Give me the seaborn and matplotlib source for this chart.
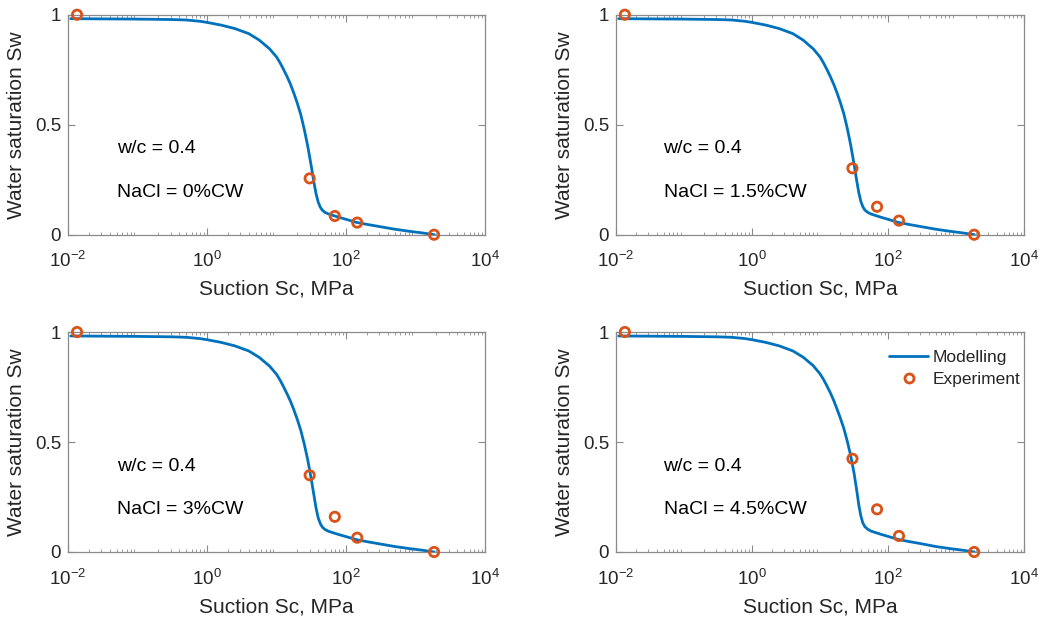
import numpy as np
import pandas as pd
import matplotlib
matplotlib.use("Agg")
import matplotlib.pyplot as plt
import seaborn as sns
from matplotlib.lines import Line2D
from matplotlib.ticker import LogLocator, FixedLocator, FixedFormatter

# ---------------- data ----------------
# modelled curve: log10 of suction (MPa)
model_log10_suction = [-1.96, -1.5, -1.0, -0.5, -0.3, -0.1, 0.0, 0.2, 0.4, 0.6, 0.75, 0.9,
                       1.0, 1.05, 1.1, 1.15, 1.2, 1.25, 1.3, 1.35, 1.4, 1.45, 1.5, 1.54,
                       1.57, 1.6, 1.63, 1.66, 1.7, 1.75, 1.82, 1.9, 2.0, 2.15, 2.3, 2.5,
                       2.7, 2.9, 3.1, 3.27]
model_sw_0 = [0.982, 0.981, 0.980, 0.978, 0.976, 0.970, 0.965, 0.953, 0.937, 0.914, 0.885, 0.845,
              0.808, 0.782, 0.752, 0.720, 0.685, 0.643, 0.597, 0.545, 0.478, 0.402, 0.312, 0.235,
              0.185, 0.148, 0.125, 0.111, 0.101, 0.094, 0.087, 0.079, 0.070, 0.056, 0.047, 0.036,
              0.025, 0.016, 0.008, 0.000]
model_sw_15 = [0.982, 0.981, 0.980, 0.978, 0.976, 0.970, 0.965, 0.953, 0.937, 0.914, 0.885, 0.845,
               0.808, 0.782, 0.752, 0.720, 0.685, 0.645, 0.600, 0.550, 0.485, 0.410, 0.322, 0.245,
               0.192, 0.152, 0.127, 0.112, 0.102, 0.094, 0.087, 0.079, 0.070, 0.056, 0.047, 0.036,
               0.025, 0.016, 0.008, 0.000]
model_sw_3 = [0.982, 0.981, 0.980, 0.978, 0.976, 0.970, 0.965, 0.953, 0.937, 0.914, 0.885, 0.845,
              0.808, 0.782, 0.752, 0.720, 0.686, 0.646, 0.602, 0.552, 0.490, 0.418, 0.332, 0.255,
              0.198, 0.155, 0.129, 0.113, 0.102, 0.094, 0.087, 0.079, 0.070, 0.056, 0.047, 0.036,
              0.025, 0.016, 0.008, 0.000]
model_sw_45 = [0.982, 0.981, 0.980, 0.978, 0.976, 0.970, 0.965, 0.953, 0.937, 0.914, 0.886, 0.847,
               0.810, 0.785, 0.756, 0.725, 0.690, 0.650, 0.608, 0.562, 0.505, 0.440, 0.360, 0.280,
               0.215, 0.165, 0.132, 0.115, 0.104, 0.095, 0.088, 0.080, 0.071, 0.057, 0.048, 0.037,
               0.025, 0.016, 0.008, 0.000]

# experiment suction (MPa)
exp_suction = [0.0135, 30, 69, 145, 1850]
exp_sw_0 = [1.0, 0.256, 0.085, 0.055, 0.0]
exp_sw_15 = [1.0, 0.302, 0.127, 0.064, 0.0]
exp_sw_3 = [1.0, 0.349, 0.160, 0.065, 0.0]
exp_sw_45 = [1.0, 0.424, 0.194, 0.073, 0.0]

nacl_labels = ["NaCl = 0%CW", "NaCl = 1.5%CW", "NaCl = 3%CW", "NaCl = 4.5%CW"]
wc_label = "w/c = 0.4"
model_series = [model_sw_0, model_sw_15, model_sw_3, model_sw_45]
exp_series = [exp_sw_0, exp_sw_15, exp_sw_3, exp_sw_45]

x_label = "Suction Sc, MPa"
y_label = "Water saturation Sw"
legend_labels = ["Modelling", "Experiment"]

# ---------------- style ----------------
sns.set_style("ticks")
plt.rcParams["font.family"] = ["Liberation Sans", "DejaVu Sans"]
plt.rcParams["mathtext.fontset"] = "custom"
plt.rcParams["mathtext.rm"] = "Liberation Sans"
plt.rcParams["mathtext.it"] = "Liberation Sans:italic"
plt.rcParams["mathtext.bf"] = "Liberation Sans:bold"

BLUE = "#0072BD"
ORANGE = "#D95319"
TXT = "#262626"
AX = "#8a8a8a"

fig = plt.figure(figsize=(10.54, 6.19), dpi=100)
positions = [
    [68 / 1054, 1 - 234.7 / 619, 417 / 1054, 220 / 619],
    [616 / 1054, 1 - 234.7 / 619, 408 / 1054, 220 / 619],
    [68 / 1054, 1 - 552 / 619, 417 / 1054, 220 / 619],
    [616 / 1054, 1 - 552 / 619, 408 / 1054, 220 / 619],
]

model_x = [10 ** v for v in model_log10_suction]

for i, pos in enumerate(positions):
    ax = fig.add_axes(pos)
    dfm = pd.DataFrame({"s": model_x, "sw": model_series[i]})
    dfe = pd.DataFrame({"s": exp_suction, "sw": exp_series[i]})
    sns.lineplot(data=dfm, x="s", y="sw", ax=ax, color=BLUE, linewidth=2.0,
                 sort=False, estimator=None)
    sns.scatterplot(data=dfe, x="s", y="sw", ax=ax, marker="o", s=45,
                    facecolor="none", edgecolor=ORANGE, linewidth=2.0, zorder=5,
                    clip_on=False)
    ax.set_xscale("log")
    ax.set_xlim(1e-2, 1e4)
    ax.set_ylim(0, 1)
    ax.xaxis.set_major_locator(FixedLocator([1e-2, 1e0, 1e2, 1e4]))
    ax.xaxis.set_major_formatter(FixedFormatter([r"$\mathdefault{10^{-2}}$", r"$\mathdefault{10^{0}}$",
                                                 r"$\mathdefault{10^{2}}$", r"$\mathdefault{10^{4}}$"]))
    ax.xaxis.set_minor_locator(LogLocator(base=10, subs=np.arange(2, 10), numticks=20))
    ax.set_yticks([0, 0.5, 1])
    ax.set_yticklabels(["0", "0.5", "1"])
    ax.tick_params(axis="both", which="both", direction="in", top=True, right=True,
                   colors=AX, labelcolor=TXT, labelsize=13.5)
    ax.tick_params(axis="y", which="major", length=5, width=0.8, pad=5)
    ax.tick_params(axis="x", which="major", length=5, width=0.8, pad=12)
    ax.tick_params(axis="x", which="minor", length=2.5, width=0.6)
    for sp in ax.spines.values():
        sp.set_color(AX)
        sp.set_linewidth(0.9)
    ax.set_xlabel(x_label, fontsize=15, color=TXT, labelpad=6)
    ax.set_ylabel(y_label, fontsize=15, color=TXT, labelpad=6)
    ax.text(0.05, 0.39, wc_label, fontsize=14, color="black", va="center", ha="left")
    ax.text(0.05, 0.193, nacl_labels[i], fontsize=14, color="black", va="center", ha="left")
    if i == 3:
        handles = [Line2D([0], [0], color=BLUE, lw=2.0),
                   Line2D([0], [0], color=ORANGE, marker="o", ls="none", markersize=6.5,
                          markerfacecolor="none", markeredgewidth=2.0)]
        ax.legend(handles, legend_labels, loc="upper right", frameon=False, fontsize=12.5,
                  handlelength=2.2, handletextpad=0.3, labelspacing=0.4,
                  bbox_to_anchor=(1.03, 0.99))

fig.savefig("out.png", dpi=100)
